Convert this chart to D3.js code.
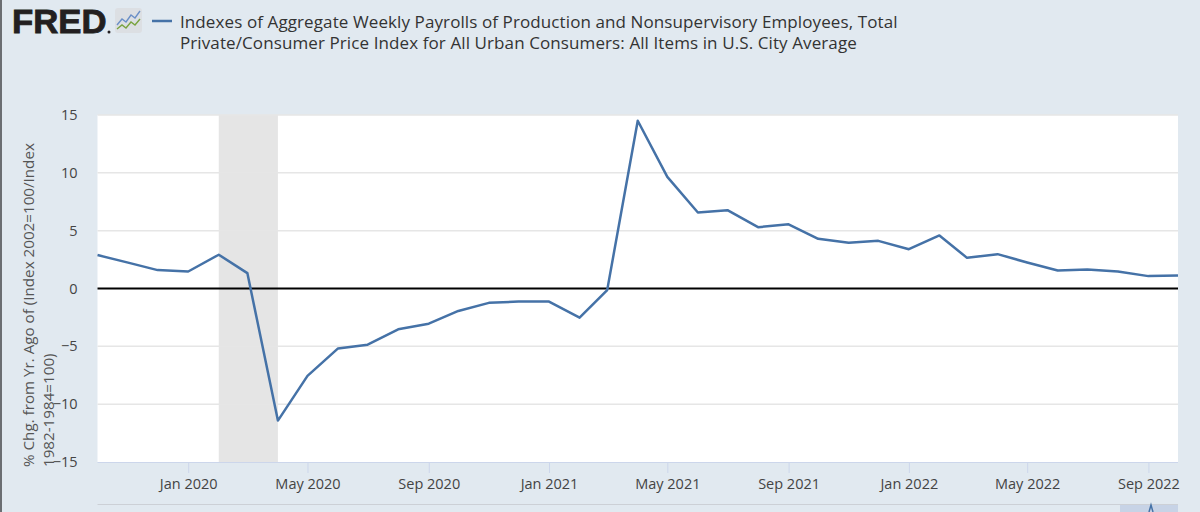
<!DOCTYPE html>
<html>
<head>
<meta charset="utf-8">
<script src="https://cdn.jsdelivr.net/npm/d3@7"></script>
<style>
  html, body { margin: 0; padding: 0; background: #e1e9f0; }
  svg { display: block; font-family: "Open Sans", sans-serif; }
</style>
</head>
<body>
<svg id="chart" width="1200" height="512"></svg>
<script>
// monthly observations, first of month
const months = [
    "2019-10", "2019-11", "2019-12",
    "2020-01", "2020-02", "2020-03", "2020-04", "2020-05", "2020-06",
    "2020-07", "2020-08", "2020-09", "2020-10", "2020-11", "2020-12",
    "2021-01", "2021-02", "2021-03", "2021-04", "2021-05", "2021-06",
    "2021-07", "2021-08", "2021-09", "2021-10", "2021-11", "2021-12",
    "2022-01", "2022-02", "2022-03", "2022-04", "2022-05", "2022-06",
    "2022-07", "2022-08", "2022-09", "2022-10"
];
const pctChange = [
    2.89, 2.24, 1.59,
    1.47, 2.92, 1.33, -11.42, -7.55, -5.18,
    -4.86, -3.53, -3.04, -1.94, -1.24, -1.13,
    -1.13, -2.52, -0.14, 14.5, 9.65, 6.57,
    6.77, 5.3, 5.55, 4.3, 3.95, 4.12,
    3.4, 4.59, 2.65, 2.97, 2.25, 1.56,
    1.65, 1.47, 1.07, 1.12
];
const recessions = [["2020-02", "2020-04"]];
const yTicks = [-15, -10, -5, 0, 5, 10, 15];
const xTicks = ["2020-01", "2020-05", "2020-09", "2021-01", "2021-05",
                "2021-09", "2022-01", "2022-05", "2022-09"];
const xDomain = ["2019-10", "2022-10"];

const titleLines = [
    "Indexes of Aggregate Weekly Payrolls of Production and Nonsupervisory Employees, Total",
    "Private/Consumer Price Index for All Urban Consumers: All Items in U.S. City Average"
];
const yTitleLines = [
    "% Chg. from Yr. Ago of (Index 2002=100/Index",
    "1982-1984=100)"
];

const parse = d3.timeParse("%Y-%m");
const fmt = d3.timeFormat("%b %Y");

const svg = d3.select("#chart");
const width = +svg.attr("width");
const height = +svg.attr("height");

const plot = { left: 97.5, right: 1178, top: 115, bottom: 462 };

const x = d3.scaleTime()
    .domain(xDomain.map(parse))
    .range([plot.left, plot.right]);

const y = d3.scaleLinear()
    .domain([-15, 15])
    .range([plot.bottom, plot.top]);

// background + left frame edge
svg.append("rect").attr("width", width).attr("height", height).attr("fill", "#e1e9f0");
svg.append("rect").attr("x", 0).attr("y", 0).attr("width", 2).attr("height", height).attr("fill", "#6b6e72");

// plot area
svg.append("rect")
    .attr("x", plot.left)
    .attr("y", plot.top)
    .attr("width", plot.right - plot.left)
    .attr("height", plot.bottom - plot.top)
    .attr("fill", "#ffffff");

// recession shading
svg.selectAll(".recession")
    .data(recessions)
    .enter().append("rect")
    .attr("class", "recession")
    .attr("x", d => x(parse(d[0])))
    .attr("width", d => x(parse(d[1])) - x(parse(d[0])))
    .attr("y", plot.top)
    .attr("height", plot.bottom - plot.top)
    .attr("fill", "#e5e5e5");

// gridlines
svg.selectAll(".grid")
    .data(yTicks.filter(d => d !== 0 && d !== -15))
    .enter().append("line")
    .attr("class", "grid")
    .attr("x1", plot.left)
    .attr("x2", plot.right)
    .attr("y1", d => y(d))
    .attr("y2", d => y(d))
    .attr("stroke", "#e6e6e6")
    .attr("stroke-width", 1.5);

// y axis labels
const yAxis = d3.axisLeft(y).tickValues(yTicks).tickSize(0).tickPadding(20);
svg.append("g")
    .attr("transform", `translate(${plot.left},0)`)
    .call(yAxis)
    .call(g => g.select(".domain").remove())
    .call(g => g.selectAll("text")
        .attr("fill", "#444")
        .style("font-size", "14.5px")
        .style("font-family", "Open Sans, sans-serif"));

// x axis
const xAxis = d3.axisBottom(x)
    .tickValues(xTicks.map(parse))
    .tickFormat(fmt)
    .tickSize(11)
    .tickPadding(6);
svg.append("g")
    .attr("transform", `translate(0,${plot.bottom})`)
    .call(xAxis)
    .call(g => g.select(".domain").attr("stroke", "#ccd6eb").attr("d", `M${plot.left},0.5H${plot.right}`))
    .call(g => g.selectAll(".tick line").attr("stroke", "#ccd6eb"))
    .call(g => g.selectAll("text")
        .attr("fill", "#444")
        .style("font-size", "14.5px")
        .style("font-family", "Open Sans, sans-serif"));

// zero line
svg.append("line")
    .attr("x1", plot.left)
    .attr("x2", plot.right)
    .attr("y1", y(0))
    .attr("y2", y(0))
    .attr("stroke", "#000")
    .attr("stroke-width", 2);

// series
const series = months.map((m, i) => ({ date: parse(m), value: pctChange[i] }));
const line = d3.line()
    .x(d => x(d.date))
    .y(d => y(d.value));

svg.append("path")
    .datum(series)
    .attr("d", line)
    .attr("fill", "none")
    .attr("stroke", "#4572a7")
    .attr("stroke-width", 2.5)
    .attr("stroke-linejoin", "round");

// y axis title
const yTitle = svg.append("text")
    .attr("transform", "translate(34,467) rotate(-90)")
    .attr("fill", "#555")
    .style("font-size", "15.2px");
yTitle.selectAll("tspan")
    .data(yTitleLines)
    .enter().append("tspan")
    .attr("x", 0)
    .attr("dy", (d, i) => i === 0 ? 0 : 20)
    .text(d => d);

// navigator strip at the bottom
svg.append("line")
    .attr("x1", plot.left).attr("x2", plot.right)
    .attr("y1", 504.5).attr("y2", 504.5)
    .attr("stroke", "#ccd0d6").attr("stroke-width", 1);
svg.append("rect")
    .attr("x", 1120).attr("y", 505)
    .attr("width", plot.right - 1120).attr("height", 7)
    .attr("fill", "#c7d3e6");
svg.append("path")
    .attr("d", "M1149,512L1151,505L1153,512")
    .attr("fill", "none").attr("stroke", "#4572a7").attr("stroke-width", 1.5);

// FRED logo
svg.append("text")
    .attr("transform", "translate(12,33) scale(1.07,1)")
    .attr("fill", "#231f20")
    .attr("stroke", "#231f20")
    .attr("stroke-width", 0.8)
    .style("font-family", "Liberation Sans, Arial, sans-serif")
    .style("font-weight", "bold")
    .style("font-size", "32.5px")
    .text("FRED");
svg.append("circle").attr("cx", 109).attr("cy", 32).attr("r", 1.5).attr("fill", "#231f20");

const icon = svg.append("g").attr("transform", "translate(115,8)");
icon.append("rect")
    .attr("width", 27).attr("height", 25).attr("rx", 3)
    .attr("fill", "#dcdfe3");
icon.append("path")
    .attr("d", "M2,17L7,11L11,14L16,7L20,10L25,3")
    .attr("fill", "none").attr("stroke", "#6a8fc7").attr("stroke-width", 1.4);
icon.append("path")
    .attr("d", "M2,21L7,17L11,20L16,14L20,17L25,11")
    .attr("fill", "none").attr("stroke", "#79a33f").attr("stroke-width", 1.4);

// legend marker + title
svg.append("line")
    .attr("x1", 152).attr("x2", 172)
    .attr("y1", 21).attr("y2", 21)
    .attr("stroke", "#4572a7").attr("stroke-width", 2.5);

const title = svg.append("text")
    .attr("x", 180)
    .attr("y", 28)
    .attr("fill", "#333")
    .style("font-size", "17px")
    .style("letter-spacing", "0.1px");
title.selectAll("tspan")
    .data(titleLines)
    .enter().append("tspan")
    .attr("x", 180)
    .attr("dy", (d, i) => i === 0 ? 0 : 21)
    .text(d => d);
</script>
</body>
</html>
